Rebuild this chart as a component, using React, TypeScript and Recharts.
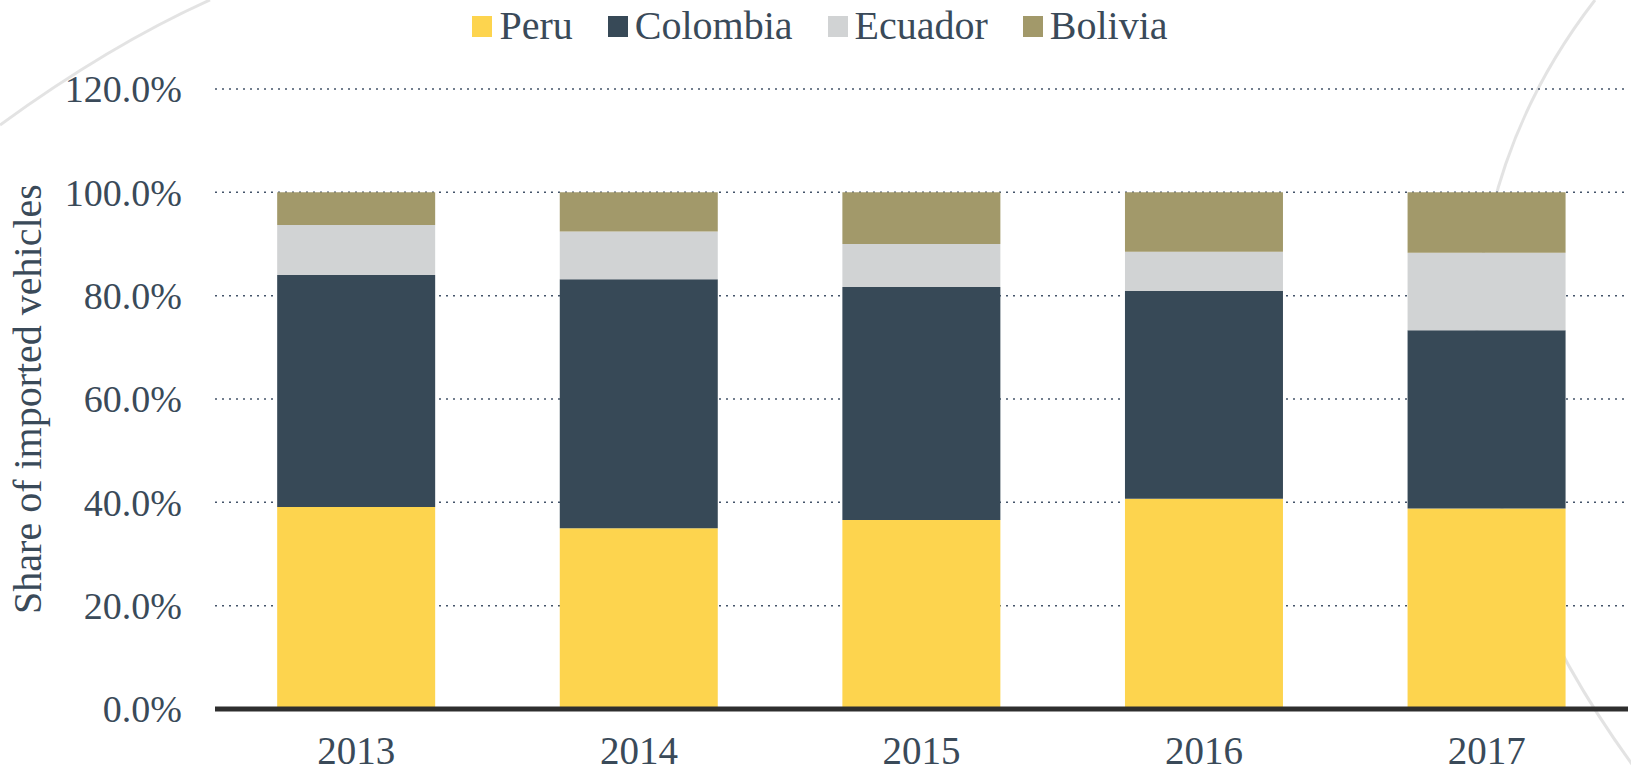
import React from "react";
import {
  BarChart,
  Bar,
  XAxis,
  YAxis,
  CartesianGrid,
  Legend,
} from "recharts";

// values (share of imported vehicles, %)
const years = ["2013", "2014", "2015", "2016", "2017"];
const peru = [39.1, 35.0, 36.6, 40.7, 38.8];
const colombia = [44.9, 48.2, 45.1, 40.2, 34.5];
const ecuador = [9.7, 9.2, 8.3, 7.6, 15.0];
const bolivia = [6.3, 7.6, 10.0, 11.5, 11.7];
const yTicks = [0, 20, 40, 60, 80, 100, 120];

const series = [
  { key: "Peru", values: peru, color: "#FDD44E" },
  { key: "Colombia", values: colombia, color: "#374957" },
  { key: "Ecuador", values: ecuador, color: "#D1D3D4" },
  { key: "Bolivia", values: bolivia, color: "#A2996A" },
];

const data = years.map((y, i) => {
  const row: Record<string, any> = { year: y };
  series.forEach((s) => (row[s.key] = s.values[i]));
  return row;
});

const W = 1631;
const H = 773;
const TEXT = "#3A4A59";
const FONT = '"Liberation Serif", "Times New Roman", serif';

function LegendContent() {
  return (
    <div
      style={{
        display: "flex",
        justifyContent: "center",
        alignItems: "center",
        height: 52,
        paddingLeft: 9,
        fontFamily: FONT,
        fontSize: 40,
        color: TEXT,
      }}
    >
      {series.map((s, i) => (
        <div
          key={s.key}
          style={{ display: "flex", alignItems: "center", marginLeft: i === 0 ? 0 : 35 }}
        >
          <span style={{ width: 20, height: 21, background: s.color, marginRight: 7, display: "inline-block" }} />
          <span style={{ lineHeight: "40px" }}>{s.key}</span>
        </div>
      ))}
    </div>
  );
}

function YTitle(props: any) {
  const vb = props.viewBox || {};
  const cy = vb.y + vb.height / 2;
  return (
    <text
      x={41}
      y={cy}
      transform={`rotate(-90 41 ${cy})`}
      textAnchor="middle"
      fill={TEXT}
      style={{ fontFamily: FONT, fontSize: 40 }}
    >
      Share of imported vehicles
    </text>
  );
}

export default function App() {
  return (
    <div style={{ position: "absolute", left: 0, top: 0, width: W, height: H, background: "#fff", overflow: "hidden" }}>
      {/* faint background arcs */}
      <svg width={W} height={H} style={{ position: "absolute", left: 0, top: 0 }}>
        <path d="M 210 0 Q 110 45 0 125" fill="none" stroke="#d0d0d0" strokeWidth={3} opacity={0.6} />
        <path d="M 1595 0 C 1440 200, 1420 480, 1640 775" fill="none" stroke="#d0d0d0" strokeWidth={3} opacity={0.6} />
      </svg>
      <div style={{ position: "absolute", left: 0, top: 0 }}>
        <BarChart
          width={W}
          height={H}
          data={data}
          margin={{ top: 37, right: 3, bottom: 4, left: 0 }}
          barCategoryGap="22%"
        >
          <CartesianGrid
            vertical={false}
            stroke="#44546A"
            strokeWidth={1.5}
            strokeDasharray="2 5"
          />
          <XAxis
            dataKey="year"
            height={60}
            axisLine={{ stroke: "#2E2E2E", strokeWidth: 5 }}
            tickLine={false}
            tickSize={0}
            tickMargin={27}
            tick={{ fill: TEXT, fontSize: 39, fontFamily: FONT }}
          />
          <YAxis
            width={215}
            domain={[0, 120]}
            ticks={yTicks}
            interval={0}
            axisLine={false}
            tickLine={false}
            tickSize={0}
            tickMargin={33}
            tickFormatter={(v: number) => v.toFixed(1) + "%"}
            tick={{ fill: TEXT, fontSize: 38, fontFamily: FONT }}
            label={<YTitle />}
          />
          <Legend
            verticalAlign="top"
            content={<LegendContent />}
            wrapperStyle={{ top: 0, left: 0, width: W, height: 52 }}
          />
          {series.map((s) => (
            <Bar
              key={s.key}
              dataKey={s.key}
              stackId="a"
              fill={s.color}
              isAnimationActive={false}
            />
          ))}
        </BarChart>
      </div>
    </div>
  );
}
